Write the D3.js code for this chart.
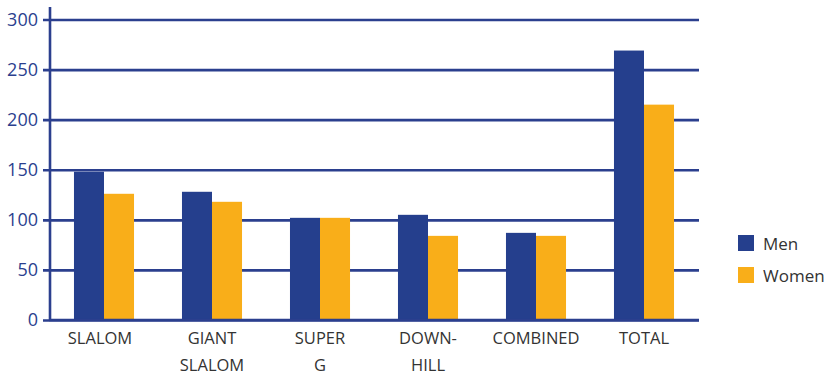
<!DOCTYPE html>
<html>
<head>
<meta charset="utf-8">
<script src="https://cdn.jsdelivr.net/npm/d3@7"></script>
<style>
  body { margin: 0; background: #fff; }
  svg { display: block; }
  text { font-family: "Open Sans", sans-serif; }
</style>
</head>
<body>
<div id="chart"></div>
<script>
// categories (each label may span two lines)
var categories = ["SLALOM", "GIANT SLALOM", "SUPER G", "DOWN- HILL", "COMBINED", "TOTAL"];
var categoryLines = [["SLALOM"], ["GIANT", "SLALOM"], ["SUPER", "G"], ["DOWN-", "HILL"], ["COMBINED"], ["TOTAL"]];
var seriesNames = ["Men", "Women"];
var menValues = [148, 128, 102, 105, 87, 269];
var womenValues = [126, 118, 102, 84, 84, 215];
var yTicks = [0, 50, 100, 150, 200, 250, 300];

var w = 828, h = 378;
var blue = "#253f8d", orange = "#f9ae19", axisBlue = "#2b3f8e", textGray = "#333333";

var svg = d3.select("#chart").append("svg")
    .attr("width", w)
    .attr("height", h);

var xScale = d3.scaleBand()
    .domain(categories)
    .range([50, 698])
    .paddingInner(0.444)
    .paddingOuter(0.222);

var xSub = d3.scaleBand()
    .domain(seriesNames)
    .range([0, xScale.bandwidth()]);

var yScale = d3.scaleLinear()
    .domain([0, 300])
    .range([320, 19.5]);

// gridlines + left ticks
var yAxis = d3.axisLeft(yScale)
    .tickValues(yTicks)
    .tickSize(-(699 - 43))
    .tickPadding(0)
    .tickFormat("");

var gy = svg.append("g")
    .attr("transform", "translate(43,0)")
    .call(yAxis);
gy.select(".domain").remove();
gy.selectAll(".tick line")
    .attr("stroke", axisBlue)
    .attr("stroke-width", 2.6);

// tick labels
svg.selectAll(".ylab")
    .data(yTicks)
    .enter()
    .append("text")
    .attr("class", "ylab")
    .attr("x", 38)
    .attr("y", function(d) { return yScale(d) + 6; })
    .attr("text-anchor", "end")
    .attr("fill", axisBlue)
    .style("font-size", "18px")
    .text(function(d) { return d; });

// bars
var groups = svg.selectAll(".grp")
    .data(categories)
    .enter()
    .append("g")
    .attr("transform", function(d) { return "translate(" + xScale(d) + ",0)"; });

groups.selectAll("rect")
    .data(function(d, i) {
        return [
            { key: "Men", v: menValues[i] },
            { key: "Women", v: womenValues[i] }
        ];
    })
    .enter()
    .append("rect")
    .attr("x", function(d) { return xSub(d.key); })
    .attr("y", function(d) { return yScale(d.v); })
    .attr("width", xSub.bandwidth())
    .attr("height", function(d) { return yScale(0) - yScale(d.v); })
    .attr("fill", function(d) { return d.key === "Men" ? blue : orange; });

// axis lines drawn over bars
svg.append("line")
    .attr("x1", 50).attr("x2", 50)
    .attr("y1", 7).attr("y2", 321)
    .attr("stroke", axisBlue)
    .attr("stroke-width", 2.6);
svg.append("line")
    .attr("x1", 49).attr("x2", 699)
    .attr("y1", yScale(0)).attr("y2", yScale(0))
    .attr("stroke", axisBlue)
    .attr("stroke-width", 2.6);

// category labels
svg.selectAll(".xlab")
    .data(categories)
    .enter()
    .append("text")
    .attr("class", "xlab")
    .attr("text-anchor", "middle")
    .attr("fill", textGray)
    .style("font-size", "16.5px")
    .each(function(d, i) {
        var t = d3.select(this);
        categoryLines[i].forEach(function(line, j) {
            t.append("tspan")
                .attr("x", xScale(d) + xScale.bandwidth() / 2 - (i === 0 ? 4 : 0))
                .attr("y", 344 + j * 27)
                .text(line);
        });
    });

// legend
var legend = svg.selectAll(".leg")
    .data(seriesNames)
    .enter()
    .append("g")
    .attr("transform", function(d, i) { return "translate(738," + (235 + i * 32) + ")"; });
legend.append("rect")
    .attr("width", 16)
    .attr("height", 16)
    .attr("fill", function(d, i) { return i === 0 ? blue : orange; });
legend.append("text")
    .attr("x", 25)
    .attr("y", 15)
    .attr("fill", textGray)
    .style("font-size", "17px")
    .text(function(d) { return d; });
</script>
</body>
</html>
